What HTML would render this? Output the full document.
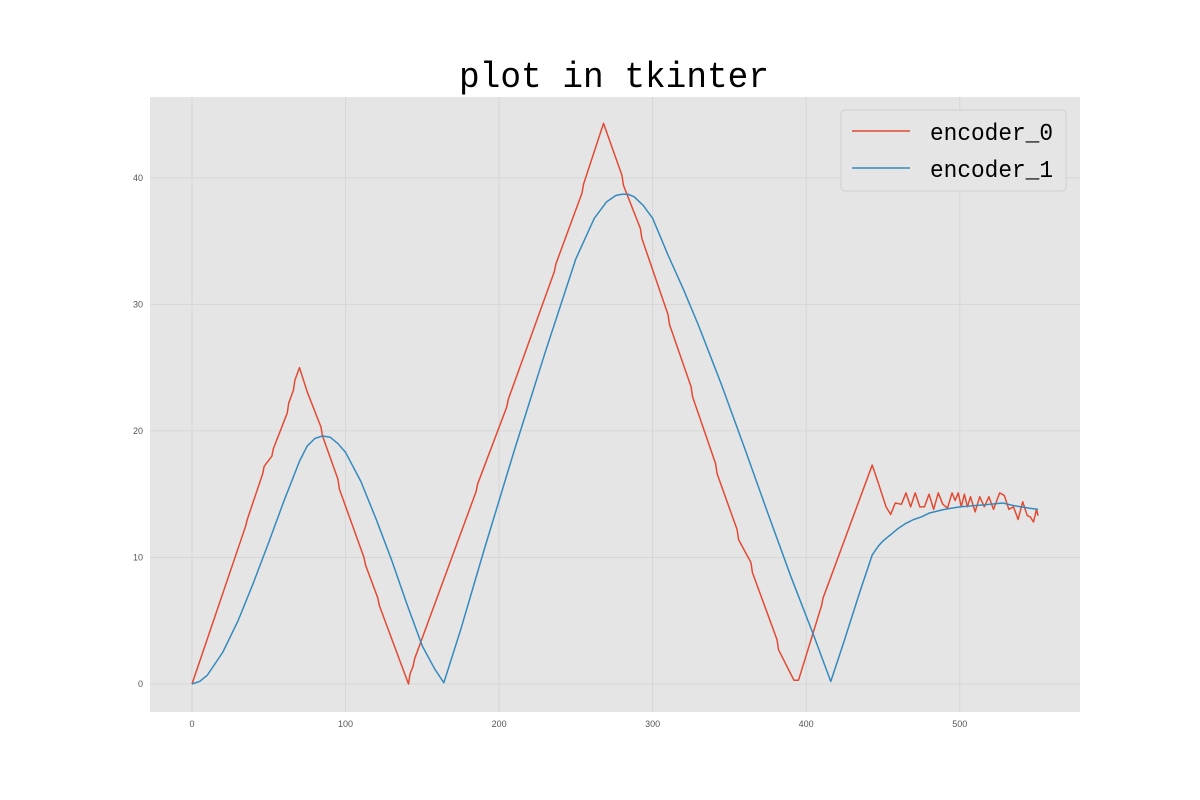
<!DOCTYPE html>
<html><head><meta charset="utf-8"><style>
body{margin:0;background:#fff;}
svg{display:block;font-family:"Liberation Sans","WenQuanYi Zen Hei",sans-serif;}
</style></head><body>
<svg id="chart" width="1200" height="800">
<rect x="0" y="0" width="1200" height="800" fill="#fff"/>
<text x="614" y="87" text-anchor="middle" font-size="36" textLength="310" lengthAdjust="spacingAndGlyphs" font-family="'Liberation Mono','WenQuanYi Zen Hei',monospace" fill="#000">plot in tkinter</text>
<rect x="150" y="97" width="930" height="615" fill="#e5e5e5"/>
<g id="grid"></g><g id="ticks"></g><g id="lines"></g>
<g>
<rect x="841" y="110" width="225" height="81" rx="4" fill="#e5e5e5" stroke="#d0d0d0"/>
<line x1="852" y1="131" x2="910" y2="131" stroke="#e24a33" stroke-width="1.5"/>
<text x="930" y="140" font-size="24" textLength="123" lengthAdjust="spacingAndGlyphs" font-family="'Liberation Mono','WenQuanYi Zen Hei',monospace">encoder_0</text>
<line x1="852" y1="168" x2="910" y2="168" stroke="#348abd" stroke-width="1.5"/>
<text x="930" y="177" font-size="24" textLength="123" lengthAdjust="spacingAndGlyphs" font-family="'Liberation Mono','WenQuanYi Zen Hei',monospace">encoder_1</text>
</g>
</svg>
<script>
const xTicks=[0,100,200,300,400,500];
const yTicks=[0,10,20,30,40];
const enc0X=[0,35,36,46,47,52,53,62,63,66,67,70,75,84,85,95,96,112,113,121,122,141,142,144,145,185,186,205,206,236,237,254,255,268,280,281,292,293,310,311,325,326,341,342,355,356,364,365,381,382,392,395,410,411,443,448,452,455,458,462,465,468,471,474,477,480,483,486,489,492,495,497,499,501,503,505,507,510,513,516,519,522,526,529,532,535,538,541,544,546,548,550,551];
const enc0Y=[0,12.5,13,16.6,17.2,18,18.6,21.4,22.2,23.2,24,25,23.1,20.3,19.6,16.2,15.4,10,9.4,6.8,6.2,0,0.8,1.4,2,15.2,15.8,21.9,22.5,32.6,33.2,38.8,39.5,44.3,40.2,39.4,36,35.2,29.2,28.4,23.5,22.7,17.4,16.6,12.2,11.4,9.6,8.8,3.5,2.7,0.3,0.3,6.2,6.8,17.3,15.5,14,13.4,14.3,14.2,15.1,14,15.1,14,14,15,13.8,15.1,14.2,13.9,15.1,14.5,15.1,14,15,14,14.8,13.6,14.8,14,14.8,13.8,15.1,14.9,13.8,14,13,14.4,13.3,13.2,12.8,13.8,13.3];
const enc1X=[0,5,10,20,30,40,50,60,70,75,80,85,90,95,100,110,120,130,140,150,158,164,175,190,210,230,250,262,270,276,280,284,288,294,300,310,320,330,345,360,375,390,405,416,425,435,443,447,450,455,460,465,470,475,480,490,500,510,520,528,535,545,551];
const enc1Y=[0,0.2,0.7,2.5,5,8,11.2,14.5,17.6,18.8,19.4,19.6,19.5,19,18.3,16,13,9.8,6.3,3,1.2,0.1,4.3,10.5,18.5,26.2,33.6,36.8,38.1,38.6,38.7,38.7,38.5,37.8,36.8,33.9,31.2,28.3,23.6,18.6,13.5,8.5,3.8,0.2,3.5,7.3,10.2,10.9,11.3,11.8,12.3,12.7,13,13.2,13.5,13.8,14,14.1,14.2,14.3,14.1,13.9,13.8];
const X=v=>192+v*1.5355, Y=v=>684-v*12.655;
const NS='http://www.w3.org/2000/svg';
const mk=(t,a,p)=>{const e=document.createElementNS(NS,t);for(const k in a)e.setAttribute(k,a[k]);p.appendChild(e);return e;};
const grid=document.getElementById('grid'),ticks=document.getElementById('ticks'),lines=document.getElementById('lines');
xTicks.forEach(t=>{
  const g=mk('line',{x1:X(t),x2:X(t),y1:97,y2:712,stroke:'#d6d6d6','stroke-width':1},grid);
  
  
  const tx=mk('text',{x:X(t),y:727,'font-size':9,'text-anchor':'middle',fill:'#555'},ticks);
  tx.textContent=t;
  
  
});
yTicks.forEach(t=>{
  const g=mk('line',{x1:150,x2:1080,y1:Y(t),y2:Y(t),stroke:'#d6d6d6','stroke-width':1},grid);
  
  
  const tx=mk('text',{x:143,y:Y(t)+3,'font-size':9,'text-anchor':'end',fill:'#555'},ticks);
  tx.textContent=t;
  
  
});
function series(xs,ys,color,name){
  const p=mk('polyline',{points:xs.map((x,i)=>X(x)+','+Y(ys[i])).join(' '),fill:'none',stroke:color,'stroke-width':1.5,'stroke-linejoin':'round'},lines);
  
  
}
series(enc0X,enc0Y,'#e24a33','encoder-0-line');
series(enc1X,enc1Y,'#348abd','encoder-1-line');
</script>
</body></html>
